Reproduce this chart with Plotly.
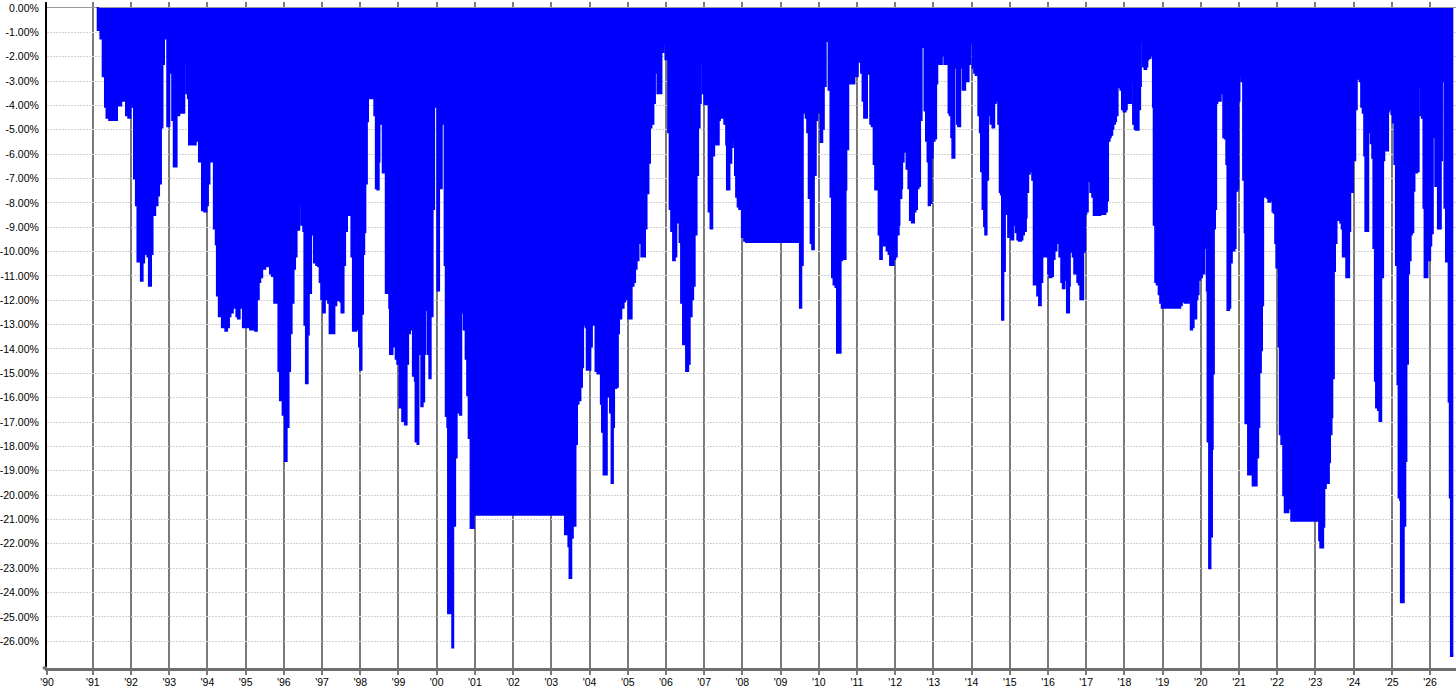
import plotly.graph_objects as go

# Decimal years and drawdown values (%)
years = [
    1991.10, 1991.13, 1991.20, 1991.26, 1991.32, 1991.36, 1991.43, 1991.56, 1991.63, 1991.74,
    1991.78, 1991.82, 1991.87, 1991.93, 1991.98, 1992.01, 1992.04, 1992.08, 1992.13, 1992.17,
    1992.26, 1992.30, 1992.34, 1992.43, 1992.47, 1992.52, 1992.56, 1992.63, 1992.69, 1992.73,
    1992.78, 1992.82, 1992.86, 1992.91, 1992.95, 1993.00, 1993.04, 1993.08, 1993.12, 1993.19,
    1993.26, 1993.34, 1993.39, 1993.45, 1993.49, 1993.52, 1993.63, 1993.69, 1993.73, 1993.78,
    1993.82, 1993.86, 1993.92, 1993.97, 1994.01, 1994.05, 1994.10, 1994.17, 1994.22, 1994.25,
    1994.30, 1994.38, 1994.47, 1994.51, 1994.56, 1994.60, 1994.66, 1994.71, 1994.76, 1994.80,
    1994.84, 1994.88, 1994.93, 1994.99, 1995.05, 1995.12, 1995.19, 1995.25, 1995.29, 1995.34,
    1995.38, 1995.43, 1995.51, 1995.60, 1995.64, 1995.69, 1995.73, 1995.75, 1995.81, 1995.86,
    1995.90, 1995.97, 1996.03, 1996.07, 1996.12, 1996.16, 1996.20, 1996.25, 1996.29, 1996.33,
    1996.40, 1996.42, 1996.46, 1996.51, 1996.54, 1996.58, 1996.62, 1996.65, 1996.68, 1996.71,
    1996.75, 1996.79, 1996.85, 1996.90, 1996.94, 1996.98, 1997.03, 1997.07, 1997.11, 1997.16,
    1997.20, 1997.24,
    1997.32, 1997.37, 1997.41, 1997.48, 1997.51, 1997.56, 1997.60, 1997.65, 1997.74, 1997.77,
    1997.81, 1997.89, 1997.93, 1997.97, 1998.00, 1998.03, 1998.07, 1998.10, 1998.13, 1998.17,
    1998.20, 1998.24, 1998.30, 1998.34, 1998.37, 1998.41, 1998.45, 1998.48, 1998.50, 1998.52,
    1998.56, 1998.59, 1998.63, 1998.67, 1998.71, 1998.76, 1998.78, 1998.84, 1998.89, 1998.93,
    1998.97, 1999.03, 1999.10, 1999.17, 1999.21, 1999.25, 1999.30, 1999.35, 1999.38, 1999.43,
    1999.45, 1999.50, 1999.52, 1999.57, 1999.60, 1999.63, 1999.67, 1999.70, 1999.74, 1999.77,
    1999.81, 1999.84, 1999.89, 1999.93, 1999.97, 2000.02, 2000.06, 2000.10, 2000.13, 2000.17,
    2000.21, 2000.24, 2000.28, 2000.30, 2000.34, 2000.37, 2000.41, 2000.43, 2000.48, 2000.52,
    2000.57, 2000.61, 2000.64, 2000.68, 2000.71, 2000.76, 2000.80, 2000.84, 2000.89, 2000.93,
    2000.97, 2003.32, 2003.36, 2003.41, 2003.45, 2003.48, 2003.52, 2003.56, 2003.60, 2003.63,
    2003.67, 2003.71, 2003.76, 2003.80, 2003.83, 2003.86, 2003.90, 2003.93, 2003.98, 2004.02,
    2004.06, 2004.10, 2004.16, 2004.21, 2004.26, 2004.30, 2004.33, 2004.37, 2004.41, 2004.45,
    2004.50, 2004.54, 2004.58, 2004.61, 2004.64, 2004.70,
    2004.74, 2004.77, 2004.83, 2004.89, 2004.93, 2004.97, 2005.02, 2005.06, 2005.10, 2005.15,
    2005.19, 2005.23, 2005.28, 2005.32, 2005.36, 2005.41, 2005.45, 2005.49, 2005.54, 2005.58,
    2005.62, 2005.67, 2005.71, 2005.75, 2005.78, 2005.84, 2005.88, 2005.93, 2005.95, 2005.99,
    2006.01, 2006.06, 2006.10, 2006.14, 2006.19, 2006.23, 2006.27, 2006.32, 2006.36, 2006.40,
    2006.45, 2006.49, 2006.53, 2006.58, 2006.62, 2006.67, 2006.71, 2006.75, 2006.80, 2006.84,
    2006.88, 2006.91, 2006.94, 2006.97, 2007.01, 2007.06, 2007.10, 2007.12, 2007.17, 2007.21,
    2007.26, 2007.30, 2007.34, 2007.38, 2007.41, 2007.46, 2007.50, 2007.53, 2007.58, 2007.60,
    2007.64, 2007.66, 2007.71, 2007.75, 2007.78, 2007.81, 2007.84, 2007.88, 2007.92, 2007.97,
    2007.99, 2008.05, 2008.10, 2009.48, 2009.51, 2009.54, 2009.58, 2009.61, 2009.66, 2009.70,
    2009.74, 2009.79, 2009.83, 2009.87, 2009.92, 2009.96, 2010.00, 2010.05, 2010.09, 2010.13,
    2010.18, 2010.22, 2010.26, 2010.31, 2010.35, 2010.39, 2010.44, 2010.48, 2010.52, 2010.57,
    2010.61, 2010.65, 2010.70, 2010.72, 2010.77, 2010.81, 2010.85, 2010.89, 2010.93, 2010.98,
    2011.02, 2011.06, 2011.11, 2011.15, 2011.19, 2011.23, 2011.26, 2011.31, 2011.35, 2011.39,
    2011.44, 2011.48, 2011.52, 2011.57, 2011.61, 2011.65, 2011.70, 2011.74, 2011.78, 2011.83,
    2011.87, 2011.91, 2011.96, 2012.00, 2012.04, 2012.09, 2012.11,
    2012.16, 2012.18, 2012.22, 2012.27, 2012.30, 2012.35, 2012.39, 2012.44, 2012.49, 2012.53,
    2012.57, 2012.61, 2012.65, 2012.69, 2012.72, 2012.77, 2012.81, 2012.85, 2012.88, 2012.91,
    2012.95, 2012.98, 2013.03, 2013.07, 2013.10, 2013.14, 2013.18, 2013.22, 2013.24, 2013.29,
    2013.33, 2013.37, 2013.40, 2013.43, 2013.47, 2013.50, 2013.55, 2013.59, 2013.62, 2013.65,
    2013.70, 2013.73, 2013.77, 2013.81, 2013.83, 2013.89, 2013.92, 2013.96, 2013.99, 2014.03,
    2014.07, 2014.11, 2014.16, 2014.18, 2014.22, 2014.25, 2014.29, 2014.33, 2014.36, 2014.39,
    2014.43, 2014.46, 2014.50, 2014.55, 2014.59, 2014.63, 2014.67, 2014.70, 2014.74, 2014.77,
    2014.80, 2014.83, 2014.87, 2014.90, 2014.92, 2014.96, 2015.00, 2015.04, 2015.09, 2015.12,
    2015.16, 2015.20, 2015.24, 2015.29, 2015.33, 2015.37, 2015.42, 2015.44, 2015.48, 2015.52,
    2015.56, 2015.59, 2015.63, 2015.68, 2015.72, 2015.77, 2015.81, 2015.85, 2015.90, 2015.94,
    2015.97, 2016.01, 2016.04, 2016.09, 2016.13, 2016.17, 2016.22, 2016.26, 2016.30, 2016.35,
    2016.39, 2016.43, 2016.47, 2016.50, 2016.55, 2016.57, 2016.62, 2016.65, 2016.69, 2016.73,
    2016.77, 2016.81, 2016.85, 2016.89, 2016.92, 2016.97, 2017.00, 2017.04, 2017.09, 2017.11,
    2017.16, 2017.20, 2017.29, 2017.37, 2017.46, 2017.50, 2017.54, 2017.57, 2017.61, 2017.64,
    2017.68, 2017.71, 2017.75, 2017.78, 2017.82, 2017.85, 2017.90, 2017.94, 2017.98, 2018.03,
    2018.06, 2018.10, 2018.13, 2018.17, 2018.20, 2018.23, 2018.27, 2018.30, 2018.34, 2018.37,
    2018.41, 2018.43, 2018.46, 2018.49, 2018.53, 2018.57, 2018.60, 2018.63, 2018.68, 2018.71,
    2018.75, 2018.77, 2018.81, 2018.85, 2018.90, 2018.94, 2018.98, 2019.42, 2019.46, 2019.50,
    2019.55,
    2019.58, 2019.63, 2019.68, 2019.70, 2019.74, 2019.77, 2019.81, 2019.85, 2019.88, 2019.91,
    2019.94, 2019.98, 2020.03, 2020.05, 2020.09, 2020.12, 2020.16, 2020.18, 2020.22, 2020.25,
    2020.29, 2020.31, 2020.34, 2020.37, 2020.40, 2020.43, 2020.48, 2020.52, 2020.56, 2020.59,
    2020.63, 2020.67, 2020.70, 2020.74, 2020.77, 2020.81, 2020.83, 2020.88, 2020.91, 2020.96,
    2020.98, 2021.01, 2021.03, 2021.07, 2021.11, 2021.15, 2021.17, 2021.22, 2021.24, 2021.29,
    2021.32, 2021.36, 2021.41, 2021.46, 2021.50, 2021.53, 2021.57, 2021.60, 2021.63, 2021.68,
    2021.70, 2021.74, 2021.77, 2021.81, 2021.84, 2021.88, 2021.91, 2021.95, 2021.98, 2022.02,
    2022.04, 2022.07, 2022.11, 2022.16, 2022.20, 2022.24, 2022.29, 2022.33, 2022.37, 2023.07,
    2023.10, 2023.13, 2023.17, 2023.20, 2023.23, 2023.27, 2023.31, 2023.35, 2023.38, 2023.42,
    2023.44, 2023.48, 2023.51, 2023.55, 2023.58, 2023.65, 2023.69, 2023.72, 2023.76, 2023.78,
    2023.81, 2023.84, 2023.88, 2023.91, 2023.95, 2023.98, 2024.02, 2024.04, 2024.08, 2024.11,
    2024.16, 2024.20, 2024.24, 2024.28, 2024.31, 2024.35, 2024.38, 2024.42, 2024.45, 2024.49,
    2024.52, 2024.56, 2024.59, 2024.64, 2024.68, 2024.72, 2024.77, 2024.80, 2024.83, 2024.86,
    2024.90, 2024.92, 2024.96, 2024.99, 2025.03, 2025.07, 2025.11, 2025.15, 2025.18, 2025.22,
    2025.24, 2025.29, 2025.31, 2025.35, 2025.38, 2025.42, 2025.45, 2025.49, 2025.52, 2025.56,
    2025.59, 2025.63, 2025.66, 2025.70, 2025.72, 2025.76, 2025.79, 2025.83, 2025.86, 2025.90,
    2025.93, 2025.97, 2026.00, 2026.03, 2026.07, 2026.10, 2026.14, 2026.17, 2026.21, 2026.24,
    2026.28, 2026.31, 2026.35, 2026.38, 2026.42, 2026.45, 2026.49, 2026.52, 2026.55, 2026.61,
]

drawdown_pct = [
    0.0, -0.9, -1.25, -2.8, -4.05, -4.5, -4.6, -4.6, -4.0, -3.45,
    -3.8, -3.45, -4.4, -4.5, -3.45, -3.9, -4.05, -7.0, -8.1, -10.4,
    -11.2, -10.45, -10.1, -10.2, -11.4, -10.1, -8.5, -8.1, -7.7, -7.2,
    -4.9, -2.3, -1.25, -1.25, -4.85, -2.3, -2.65, -4.6, -6.5, -4.4,
    -4.3, -4.3, -2.3, -3.5, -3.7, -5.6, -5.6, -4.9, -5.45, -6.3,
    -6.3, -8.3, -8.35, -8.1, -7.2, -5.7, -6.3, -9.05, -9.7, -11.8,
    -12.65, -13.1, -13.25, -13.1, -12.65, -12.5, -12.1, -12.3, -12.65, -12.75,
    -12.3, -11.85, -13.1, -13.1, -13.1, -13.2, -13.2, -13.25, -11.95, -11.25,
    -11.05, -10.7, -10.6, -10.6, -10.9, -11.0, -10.6, -12.1, -12.1, -14.9,
    -16.1, -16.7, -18.6, -17.2, -14.9, -13.35, -12.1, -10.7, -10.2, -9.1,
    -8.1, -5.6, -8.9, -9.15, -13.0, -15.4, -13.4, -11.6, -11.7, -9.3,
    -8.5, -10.45, -10.55, -10.6, -11.25, -11.95, -12.5, -11.05, -11.95, -12.1,
    -13.35, -13.35,
    -12.2, -9.65, -12.0, -12.05, -12.5, -10.55, -9.15, -8.5, -8.5, -10.2,
    -13.25, -13.2, -13.2, -13.9, -14.85, -12.55, -10.1, -9.2, -7.2, -4.65,
    -2.65, -3.7, -3.7, -3.6, -4.4, -7.4, -7.45, -6.3, -4.75, -3.35,
    -4.75, -6.75, -6.75, -11.7, -8.6, -12.3, -14.2, -13.9, -13.9, -14.4,
    -14.6, -16.4, -16.95, -17.1, -14.6, -13.35, -13.2, -10.55, -15.1, -15.3,
    -17.8, -17.9, -14.05, -14.2, -16.35, -16.15, -14.2, -12.4, -12.4, -14.2,
    -15.2, -12.65, -8.25, -4.05, -3.2, -11.6, -7.4, -7.4, -2.1, -4.75,
    -10.55, -16.75, -17.2, -24.85, -24.85, -22.1, -26.25, -21.25, -18.45, -16.5,
    -16.6, -16.7, -12.5, -11.05, -13.2, -14.4, -15.9, -17.65, -21.35, -21.35,
    -20.8, -20.8, -21.6, -21.6, -22.1, -23.4, -21.75, -21.05, -21.25, -17.9,
    -16.25, -16.1, -15.55, -14.75, -13.0, -12.75, -13.1, -14.85, -14.85, -13.9,
    -12.4, -13.0, -14.9, -15.0, -15.0, -16.25, -17.4, -19.15, -19.15, -15.95,
    -13.9, -16.6, -19.5, -17.2, -15.6, -15.55,
    -13.35, -12.75, -12.3, -12.05, -10.1, -11.95, -12.75, -12.75, -11.4, -11.25,
    -10.7, -10.35, -9.65, -9.65, -10.2, -10.2, -9.05, -7.6, -6.35, -4.9,
    -4.75, -3.9, -2.65, -2.4, -3.5, -3.5, -1.8, -1.45, -0.55, -2.1,
    -2.1, -5.1, -8.25, -9.15, -10.35, -10.2, -8.8, -8.0, -9.6, -12.1,
    -13.8, -12.1, -14.9, -14.6, -12.65, -11.95, -11.4, -9.3, -6.85, -4.9,
    -3.9, -2.3, -2.2, -3.5, -3.95, -3.95, -2.1, -8.35, -9.05, -6.05,
    -5.2, -5.6, -5.6, -4.6, -4.4, -4.5, -3.2, -4.75, -5.6, -7.45,
    -7.45, -6.35, -5.7, -5.45, -4.75, -6.85, -7.75, -8.15, -8.25, -8.15,
    -9.4, -9.55, -9.6, -9.6, -12.3, -10.55, -4.15, -4.3, -4.5, -5.1,
    -7.8, -9.65, -9.9, -6.85, -4.6, -4.3, -3.7, -5.5, -4.95, -3.2,
    -1.25, -1.35, -3.35, -7.75, -11.05, -11.35, -11.45, -14.15, -14.15, -10.35,
    -10.3, -10.3, -7.45, -5.8, -3.1, -1.85, -3.1, -3.1, -2.8, -2.8,
    -2.1, -2.2, -2.65, -3.8, -4.5, -4.5, -1.75, -2.7, -4.75, -4.85,
    -6.4, -7.45, -5.6, -9.3, -10.3, -8.5, -9.75, -9.75, -9.95, -10.1,
    -10.55, -10.55, -10.3, -10.2, -9.3, -8.9, -7.8,
    -7.4, -6.3, -5.9, -5.45, -6.6, -7.4, -8.7, -8.8, -8.35, -8.25,
    -7.4, -7.3, -4.6, -1.6, -1.4, -4.2, -5.45, -6.3, -8.1, -8.0,
    -6.15, -5.45, -5.35, -3.1, -1.85, -2.3, -2.3, -0.45, -1.95, -2.3,
    -2.3, -0.9, -4.3, -4.4, -5.3, -6.15, -2.45, -2.45, -4.75, -4.85,
    -2.45, -1.85, -3.35, -3.35, -3.0, -3.0, -2.3, -1.0, -1.45, -2.45,
    -2.65, -2.75, -2.45, -4.4, -5.1, -6.7, -8.25, -8.95, -9.3, -7.05,
    -4.4, -1.4, -4.75, -4.9, -3.9, -3.8, -2.2, -4.75, -7.55, -7.65,
    -12.8, -10.8, -7.75, -7.75, -8.45, -9.4, -9.4, -9.5, -8.8, -8.9,
    -9.2, -9.5, -9.55, -9.5, -9.3, -9.15, -8.6, -7.55, -6.8, -6.6,
    -6.7, -7.05, -11.35, -11.35, -11.8, -12.2, -11.25, -10.2, -10.2, -10.2,
    -9.5, -10.9, -11.05, -11.0, -10.3, -9.95, -9.65, -9.55, -10.2, -11.25,
    -11.5, -11.15, -11.15, -12.5, -11.4, -10.0, -10.0, -10.2, -10.9, -10.9,
    -11.25, -11.35, -11.95, -11.95, -10.0, -8.45, -8.35, -7.1, -7.1, -7.55,
    -7.75, -8.5, -8.5, -8.45, -8.45, -8.35, -7.9, -5.45, -5.3, -5.2,
    -4.95, -4.75, -4.65, -4.4, -3.0, -3.25, -3.35, -4.15, -4.25, -4.15,
    -3.35, -3.9, -3.9, -3.0, -2.05, -4.75, -4.95, -5.0, -5.0, -4.15,
    -3.2, -1.35, -0.7, -2.4, -2.5, -2.4, -2.1, -2.05, -1.95, -1.85,
    -4.05, -8.9, -11.25, -11.35, -11.75, -12.1, -12.3, -12.3, -12.2, -12.05,
    -11.9,
    -12.1, -12.1, -11.75, -11.95, -13.2, -13.1, -12.75, -12.75, -11.95, -11.75,
    -11.15, -11.05, -10.9, -10.9, -9.75, -9.85, -11.6, -17.8, -23.0, -21.7,
    -18.1, -15.0, -9.05, -8.25, -3.9, -3.8, -3.8, -2.4, -3.5, -5.3,
    -5.35, -6.4, -12.4, -12.3, -10.45, -7.65, -9.95, -9.85, -7.5, -7.4,
    -3.8, -2.8, -1.6, -3.0, -7.05, -9.2, -17.05, -17.05, -19.15, -19.15,
    -16.5, -19.6, -19.6, -18.45, -17.2, -14.95, -14.05, -12.2, -7.75, -7.7,
    -6.3, -7.8, -7.95, -7.9, -6.4, -8.35, -8.4, -9.65, -10.65, -10.65,
    -13.9, -17.5, -17.9, -20.0, -20.7, -20.7, -19.65, -20.55, -21.05, -21.05,
    -21.85, -22.15, -22.15, -21.3, -19.7, -19.3, -19.5, -18.65, -17.5, -16.8,
    -15.2, -10.8, -9.65, -7.65, -8.7, -8.8, -9.05, -10.2, -10.2, -10.0,
    -11.05, -11.05, -9.15, -7.55, -7.55, -6.25, -6.25, -4.15, -1.3, -2.9,
    -3.0, -4.05, -4.3, -6.05, -9.15, -9.15, -5.1, -3.1, -5.55, -6.15,
    -9.85, -15.3, -16.4, -16.5, -16.95, -11.05, -6.25, -4.9, -5.8, -5.85,
    -4.25, -3.0, -4.15, -4.35, -4.7, -6.4, -10.55, -15.45, -20.1, -20.2,
    -24.4, -24.4, -21.25, -18.6, -14.6, -10.9, -10.35, -9.3, -9.2, -7.5,
    -6.15, -6.75, -6.7, -3.25, -1.75, -4.4, -4.5, -8.2, -11.05, -11.05,
    -10.35, -10.35, -9.75, -9.25, -5.2, -5.3, -7.3, -7.3, -9.05, -9.05,
    -6.25, -2.1, -3.0, -8.2, -10.4, -10.4, -16.15, -20.1, -26.6, -26.6,
]

# Axis ticks
x_tick_years = [1989.8] + list(range(1991, 2027))
x_tick_labels = ["'90", "'91", "'92", "'93", "'94", "'95", "'96", "'97", "'98", "'99",
                 "'00", "'01", "'02", "'03", "'04", "'05", "'06", "'07", "'08", "'09",
                 "'10", "'11", "'12", "'13", "'14", "'15", "'16", "'17", "'18", "'19",
                 "'20", "'21", "'22", "'23", "'24", "'25", "'26"]
y_tick_vals = [0, -1, -2, -3, -4, -5, -6, -7, -8, -9, -10, -11, -12, -13,
               -14, -15, -16, -17, -18, -19, -20, -21, -22, -23, -24, -25, -26]
y_tick_labels = ["%.2f%%" % v for v in y_tick_vals]

font_family = "Liberation Sans, Arial, sans-serif"

fig = go.Figure()
fig.add_trace(go.Scatter(
    x=years, y=drawdown_pct,
    mode="lines",
    line=dict(color="#0000FF", width=2.2, shape="hv"),
    fill="tozeroy",
    fillcolor="#0000FF",
    hoverinfo="skip",
    showlegend=False,
))

fig.update_layout(
    width=1456, height=695, autosize=False,
    margin=dict(l=42, r=0, t=2, b=27, pad=0),
    paper_bgcolor="white", plot_bgcolor="white",
    font=dict(family=font_family, size=10.5, color="black"),
    showlegend=False,
)

fig.update_xaxes(
    range=[1989.8, 2026.68],
    tickmode="array", tickvals=x_tick_years, ticktext=x_tick_labels,
    showgrid=True, gridcolor="#7a7a7a", gridwidth=1.5,
    ticks="outside", ticklen=4, tickcolor="#7a7a7a", tickwidth=1.5,
    ticklabelstandoff=-2,
    showline=True, linecolor="#6e6e6e", linewidth=3,
    zeroline=False,
    tickfont=dict(family=font_family, size=10.5, color="black"),
)

fig.update_yaxes(
    range=[-27.1, 0.246],
    tickmode="array", tickvals=y_tick_vals, ticktext=y_tick_labels,
    showgrid=True, gridcolor="#d2d2d2", gridwidth=1, griddash="2px,1px",
    ticks="", ticklabelstandoff=4,
    showline=True, linecolor="black", linewidth=2,
    zeroline=True, zerolinecolor="#9a9a9a", zerolinewidth=1,
    tickfont=dict(family=font_family, size=10.5, color="black"),
)

# Short extension of the bottom axis line past the left axis, as in the reference
fig.add_shape(type="line", xref="paper", yref="paper",
              x0=-0.003, x1=0, y0=0, y1=0,
              line=dict(color="#6e6e6e", width=3))

# Remove the default page margin so the figure sits at the window's top-left corner
fig.write_html("out.html", config={"displayModeBar": False},
               post_script="document.body.style.margin='0';")
